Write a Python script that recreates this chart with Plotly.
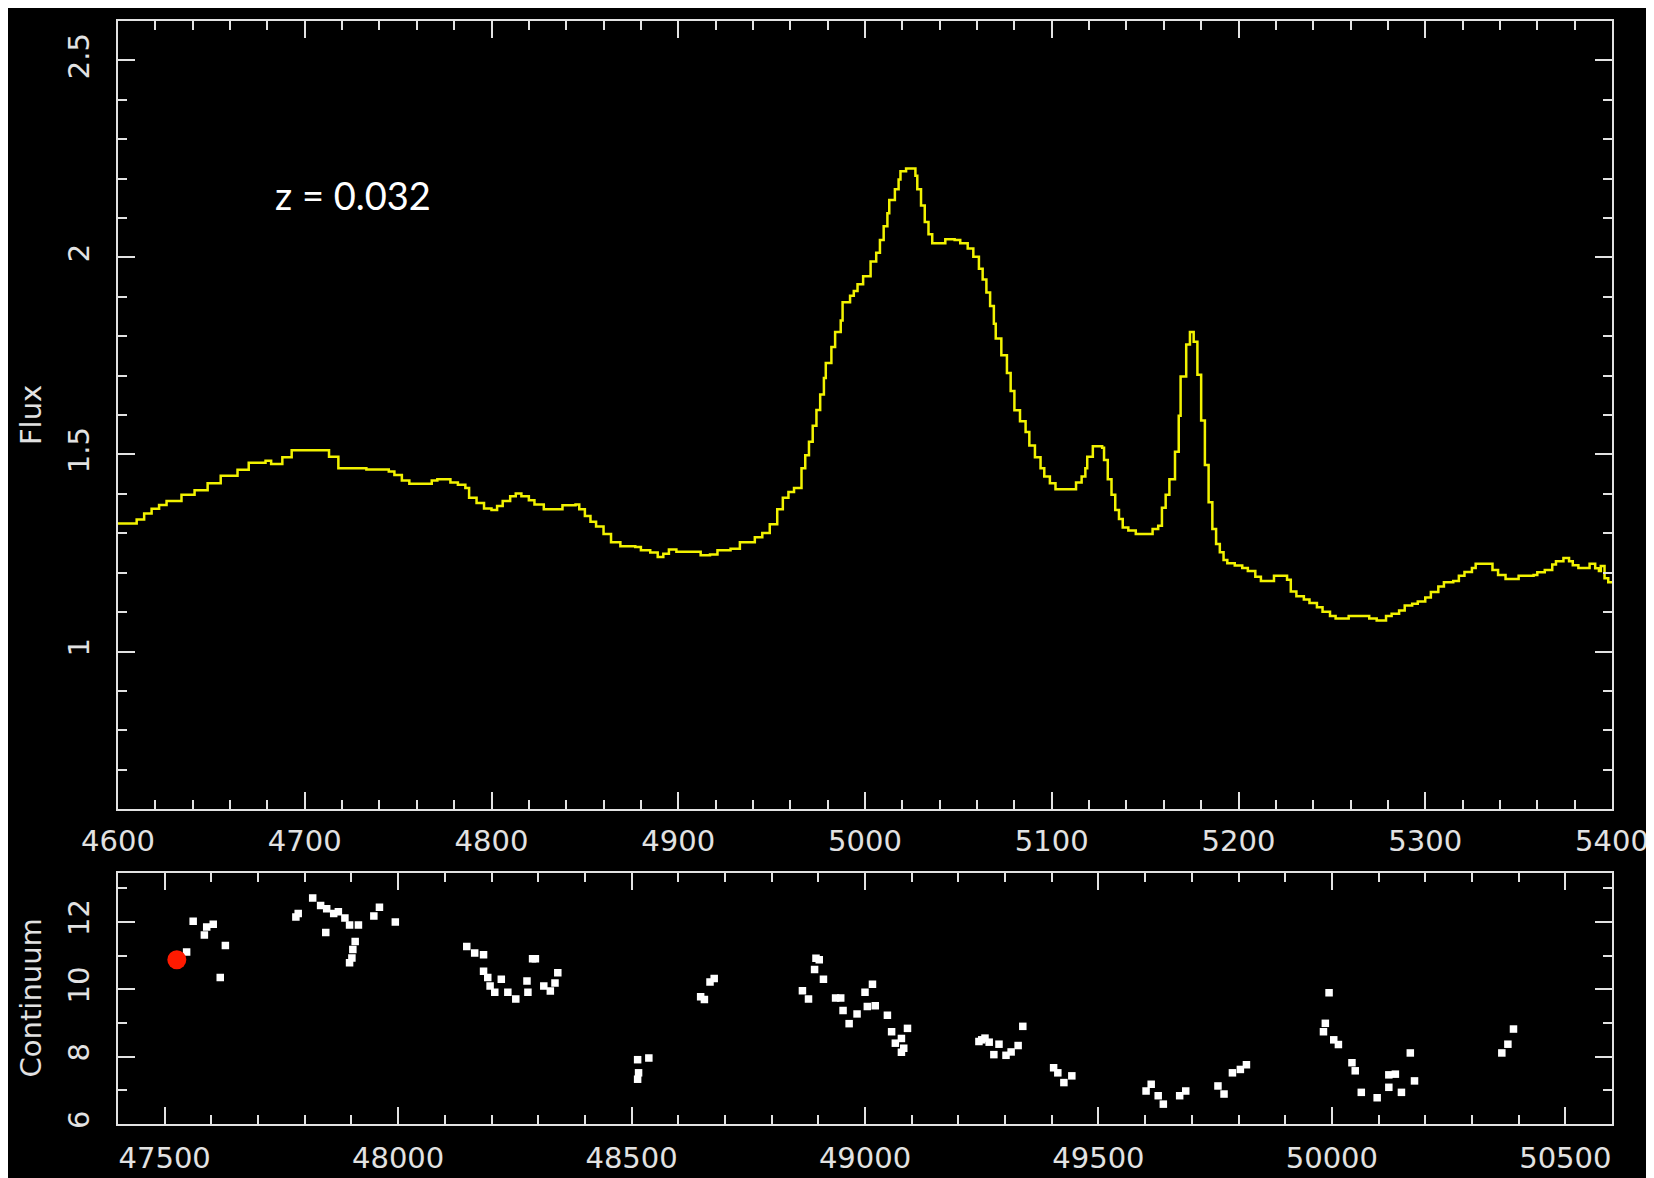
import plotly.graph_objects as go

# ---------------- spectrum (top panel) ----------------
wavelength = [4600, 4606, 4610, 4614, 4618, 4622, 4626, 4634, 4641, 4648, 4655, 4664, 4670,
              4679, 4682, 4688, 4693, 4713, 4718, 4733, 4745, 4748, 4752, 4756, 4768, 4771,
              4778, 4782, 4786, 4788, 4792, 4796, 4800, 4803, 4806, 4810, 4813, 4816, 4820,
              4823, 4828, 4838, 4845, 4847, 4850, 4853, 4856, 4860, 4864, 4869, 4877, 4880,
              4885, 4889, 4892, 4895, 4899, 4912, 4917, 4921, 4928, 4933, 4941, 4945, 4949,
              4953, 4956, 4959, 4962, 4966, 4968, 4970, 4972, 4974, 4976, 4978, 4979, 4982,
              4984, 4987, 4988, 4992, 4994, 4996, 4999, 5003, 5006, 5008, 5010, 5012, 5013,
              5016, 5018, 5019, 5022, 5027, 5028, 5030, 5032, 5034, 5036, 5043, 5048, 5051,
              5055, 5058, 5061, 5063, 5065, 5067, 5069, 5070, 5073, 5076, 5078, 5080, 5083,
              5086, 5088, 5091, 5094, 5096, 5099, 5102, 5113, 5116, 5118, 5119, 5122, 5127,
              5128, 5130, 5132, 5134, 5136, 5138, 5141, 5145, 5154, 5157, 5159, 5161, 5163,
              5166, 5168, 5169, 5172, 5174, 5176, 5178, 5180, 5182, 5184, 5186, 5188, 5190,
              5192, 5194, 5198, 5202, 5205, 5209, 5212, 5219, 5226, 5228, 5231, 5235, 5238,
              5242, 5245, 5249, 5252, 5259, 5270, 5274, 5279, 5282, 5286, 5289, 5293, 5296,
              5300, 5303, 5307, 5310, 5315, 5318, 5321, 5325, 5327, 5336, 5339, 5343, 5350,
              5358, 5360, 5364, 5368, 5370, 5374, 5377, 5379, 5382, 5388, 5391, 5393, 5394,
              5396, 5398, 5400]
flux = [1.325, 1.325, 1.335, 1.350, 1.362, 1.372, 1.382, 1.398, 1.409, 1.427, 1.446, 1.461, 1.479,
        1.484, 1.476, 1.493, 1.511, 1.494, 1.465, 1.462, 1.457, 1.448, 1.434, 1.426, 1.434, 1.437,
        1.429, 1.423, 1.415, 1.390, 1.377, 1.363, 1.359, 1.369, 1.382, 1.394, 1.401, 1.394, 1.384,
        1.373, 1.361, 1.371, 1.373, 1.361, 1.344, 1.329, 1.317, 1.298, 1.277, 1.267, 1.265, 1.257,
        1.251, 1.240, 1.248, 1.259, 1.253, 1.244, 1.246, 1.257, 1.261, 1.277, 1.290, 1.301, 1.323,
        1.361, 1.390, 1.405, 1.415, 1.465, 1.498, 1.532, 1.573, 1.613, 1.652, 1.694, 1.732, 1.773,
        1.811, 1.840, 1.886, 1.903, 1.915, 1.932, 1.952, 1.990, 2.012, 2.044, 2.079, 2.112, 2.146,
        2.173, 2.198, 2.219, 2.226, 2.207, 2.173, 2.132, 2.090, 2.059, 2.036, 2.046, 2.044, 2.036,
        2.023, 2.002, 1.971, 1.944, 1.911, 1.877, 1.832, 1.794, 1.752, 1.707, 1.661, 1.612, 1.584,
        1.557, 1.523, 1.493, 1.465, 1.444, 1.427, 1.412, 1.429, 1.444, 1.465, 1.494, 1.521, 1.517,
        1.486, 1.437, 1.398, 1.359, 1.336, 1.315, 1.307, 1.298, 1.311, 1.319, 1.365, 1.398, 1.437,
        1.507, 1.598, 1.698, 1.779, 1.811, 1.786, 1.702, 1.586, 1.473, 1.379, 1.311, 1.273, 1.252,
        1.232, 1.224, 1.218, 1.212, 1.204, 1.190, 1.179, 1.192, 1.182, 1.152, 1.140, 1.132, 1.123,
        1.112, 1.101, 1.090, 1.084, 1.090, 1.084, 1.079, 1.090, 1.096, 1.104, 1.117, 1.121, 1.127,
        1.137, 1.151, 1.165, 1.176, 1.179, 1.192, 1.202, 1.212, 1.223, 1.207, 1.194, 1.184, 1.192,
        1.194, 1.201, 1.207, 1.221, 1.229, 1.237, 1.229, 1.219, 1.212, 1.223, 1.211, 1.204, 1.217,
        1.186, 1.176, 1.179]

# ---------------- light curve (bottom panel) ----------------
jd = [47547, 47561, 47585, 47590, 47604, 47619, 47630,
      47781, 47786, 47817, 47834, 47845, 47847, 47862, 47872, 47886, 47896, 47896, 47901, 47903,
      47908, 47915, 47948, 47960, 47994,
      48147, 48164, 48183, 48183, 48192, 48197, 48207, 48221, 48235, 48252, 48276, 48278, 48288,
      48294, 48312, 48326, 48336, 48342,
      48513, 48515, 48513, 48537,
      48648, 48656, 48668, 48677,
      48866, 48879, 48892, 48895, 48902, 48911, 48937, 48948, 48953, 48966, 48983, 49000, 49005,
      49016, 49022, 49048, 49057, 49065, 49078, 49078, 49083, 49091,
      49244, 49250, 49257, 49266, 49276, 49287, 49302, 49313, 49328, 49338,
      49404, 49413, 49426, 49443,
      49602, 49613, 49628, 49639, 49674, 49687,
      49756, 49769, 49787, 49804, 49817,
      49982, 49986, 49994, 50004, 50014, 50043, 50050, 50063, 50097, 50122, 50122, 50136, 50149,
      50168, 50177,
      50364, 50377, 50389]
continuum = [11.11, 12.02, 11.61, 11.85, 11.93, 10.35, 11.30,
             12.15, 12.25, 12.71, 12.49, 11.69, 12.39, 12.25, 12.30, 12.12, 11.91, 10.79, 10.93, 11.18,
             11.42, 11.91, 12.18, 12.44, 12.00,
             11.27, 11.08, 11.03, 10.54, 10.35, 10.10, 9.91, 10.30, 9.91, 9.71, 10.25, 9.91, 10.91,
             10.91, 10.10, 9.95, 10.19, 10.49,
             7.91, 7.52, 7.33, 7.96,
             9.78, 9.70, 10.22, 10.32,
             9.96, 9.71, 10.59, 10.92, 10.88, 10.30, 9.74, 9.74, 9.37, 8.98, 9.27, 9.91, 9.49,
             10.15, 9.51, 9.23, 8.74, 8.40, 8.54, 8.13, 8.25, 8.84,
             8.45, 8.50, 8.55, 8.43, 8.06, 8.37, 8.04, 8.14, 8.33, 8.90,
             7.67, 7.52, 7.23, 7.43,
             6.98, 7.18, 6.84, 6.59, 6.84, 6.98,
             7.13, 6.89, 7.52, 7.62, 7.76,
             8.74, 8.99, 9.90, 8.50, 8.36, 7.82, 7.58, 6.94, 6.78, 7.46, 7.09, 7.48, 6.94,
             8.11, 7.28,
             8.11, 8.37, 8.82]
current_jd = [47526]
current_continuum = [10.88]

redshift_label = "z = 0.032"

FG = "#e2e2e2"
TICKFONT = dict(family="DejaVu Sans", size=29, color=FG)

fig = go.Figure()
fig.add_trace(go.Scatter(x=wavelength, y=flux, mode="lines", line=dict(color="#f2f200", width=2.5, shape="hv"),
                         xaxis="x", yaxis="y", showlegend=False, hoverinfo="skip"))
fig.add_trace(go.Scatter(x=jd, y=continuum, mode="markers",
                         marker=dict(symbol="square", size=7.5, color="white", line=dict(width=0)),
                         xaxis="x2", yaxis="y2", showlegend=False))
fig.add_trace(go.Scatter(x=current_jd, y=current_continuum, mode="markers",
                         marker=dict(symbol="circle", size=19, color="#ff1a00", line=dict(width=0)),
                         xaxis="x2", yaxis="y2", showlegend=False))


def axis_style(dtick, minor_dtick, **kw):
    d = dict(showgrid=False, zeroline=False, showline=True, linecolor=FG, linewidth=2,
             mirror="allticks", ticks="inside", ticklen=17, tickwidth=2, tickcolor=FG,
             dtick=dtick, tick0=0, tickfont=TICKFONT,
             minor=dict(ticks="inside", ticklen=9, tickwidth=2, tickcolor=FG, dtick=minor_dtick,
                        tick0=0, showgrid=False))
    d.update(kw)
    return d


top_bottom = (1132 - 812) / 1121
bot_top = (1132 - 876.7) / 1121

fig.update_layout(
    width=1654, height=1178,
    paper_bgcolor="black", plot_bgcolor="black",
    margin=dict(l=110, r=50, t=11, b=46),
    xaxis=axis_style(100, 20, domain=[0, 1], anchor="y", range=[4600, 5400], ticklabelstandoff=5),
    yaxis=axis_style(0.5, 0.1, domain=[top_bottom, 1], anchor="x", range=[0.6, 2.6],
                     tickangle=-90, ticklabelstandoff=15),
    xaxis2=axis_style(500, 100, domain=[0, 1], anchor="y2", range=[47400, 50600],
                      tickformat="d", ticklabelstandoff=7),
    yaxis2=axis_style(2, 1, domain=[0, bot_top], anchor="x2", range=[6, 13.46],
                      tickangle=-90, ticklabelstandoff=15),
    annotations=[
        dict(text="Flux", xref="paper", yref="paper", x=(23 - 110) / 1494, y=(top_bottom + 1) / 2,
             xanchor="center", yanchor="middle", textangle=-90, showarrow=False,
             font=dict(family="DejaVu Sans", size=29, color=FG)),
        dict(text="Continuum", xref="paper", yref="paper", x=(23 - 110) / 1494, y=bot_top / 2,
             xanchor="center", yanchor="middle", textangle=-90, showarrow=False,
             font=dict(family="DejaVu Sans", size=29, color=FG)),
        dict(text=redshift_label, xref="x", yref="y", x=4726, y=2.1575,
             xanchor="center", yanchor="middle", showarrow=False,
             font=dict(family="Lato", size=38, color="white")),
    ],
)

fig.write_html("out.html")
